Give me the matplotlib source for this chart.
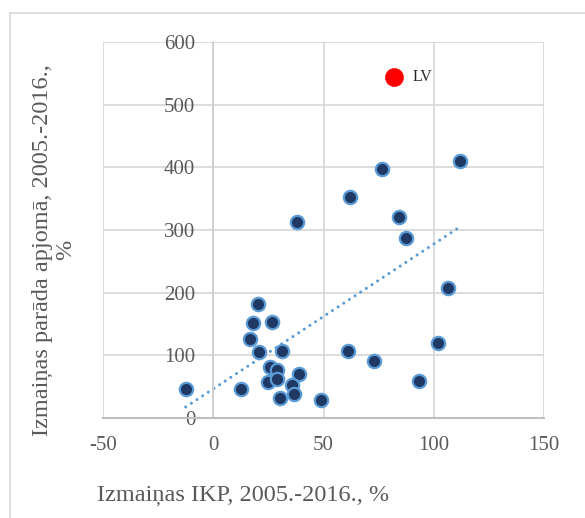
import matplotlib
matplotlib.use("Agg")
import matplotlib.pyplot as plt
from matplotlib.lines import Line2D

plt.rcParams['font.family'] = ['Liberation Serif', 'DejaVu Serif']
plt.rcParams['axes.unicode_minus'] = False

# Change in GDP 2005-2016, % (x) and change in debt 2005-2016, % (y)
gdp_change = [-12.5, 12.6, 20.2, 17.9, 26.8, 16.7, 20.6, 31.1, 25.8, 29.0,
              24.7, 28.8, 39.0, 35.9, 36.7, 30.3, 48.8, 38.2, 76.5, 61.8,
              84.3, 87.4, 111.8, 106.4, 61.1, 73.0, 101.8, 93.2]
debt_change = [47, 46, 182, 151, 153, 126, 105, 107, 81, 76,
               58, 62, 70, 52, 39, 32, 28, 313, 397, 353,
               320, 288, 410, 208, 107, 91, 119, 59]

# Latvia highlighted
lv_x = [81.8]
lv_y = [544]
lv_label = "LV"

# Linear trend line endpoints (as read)
trend_x = [-12.5, 111.8]
trend_y = [17.6, 304.8]

x_ticks = [-50, 0, 50, 100, 150]
y_ticks = [0, 100, 200, 300, 400, 500, 600]

x_title = "Izmaiņas IKP, 2005.-2016., %"
y_title = "Izmaiņas parāda apjomā, 2005.-2016.,\n%"

fig = plt.figure(figsize=(5.85, 5.18), dpi=100)
ax = fig.add_axes([103/585, 1-418/518, (544-103)/585, (418-42)/518])

grid_c = '#d9d9d9'
text_c = '#595959'

ax.set_xlim(-50, 150)
ax.set_ylim(0, 600)
ax.set_xticks(x_ticks)
ax.set_yticks(y_ticks)
ax.grid(True, color=grid_c, linewidth=1.3, zorder=0)
ax.set_axisbelow(True)

for s in ['top', 'right']:
    ax.spines[s].set_visible(False)
ax.spines['left'].set_position(('data', 0))
ax.spines['left'].set_color('#d0d0d0')
ax.spines['left'].set_linewidth(1.3)
ax.spines['bottom'].set_color('#bfbfbf')
ax.spines['bottom'].set_linewidth(1.5)

ax.tick_params(axis='both', length=0, labelsize=15, labelcolor=text_c)
ax.tick_params(axis='y', pad=13)
ax.tick_params(axis='x', pad=13)

ax.plot(trend_x, trend_y, color='#5b9bd5', linewidth=2.2,
        linestyle=(0, (0.01, 2.2)), dash_capstyle='round', zorder=2)

ax.plot(gdp_change, debt_change, linestyle='none', marker='o', markersize=9.6,
        markerfacecolor='#1f3864', markeredgecolor='#5b9bd5', markeredgewidth=1.6,
        zorder=3, clip_on=False)

ax.plot(lv_x, lv_y, linestyle='none', marker='o', markersize=13.5,
        markerfacecolor='#ff0000', markeredgecolor='#ff0000', markeredgewidth=0,
        zorder=3)
ax.annotate(lv_label, (lv_x[0], lv_y[0]), xytext=(14, 0), textcoords='offset points',
            va='center', ha='left', fontsize=11.5, color='#262626')

fig.text(243/585, 1-496/518, x_title, ha='center', va='center',
         fontsize=17.5, color=text_c)
fig.text(54/585, 1-250/518, y_title, ha='center', va='center', rotation=90,
         fontsize=17.5, color=text_c, linespacing=1.15, multialignment='center')

# outer chart frame (partially visible)
fig.add_artist(Line2D([10/585, 1], [1-13/518, 1-13/518], color=grid_c, linewidth=1.2))
fig.add_artist(Line2D([10/585, 10/585], [0, 1-13/518], color=grid_c, linewidth=1.2))

fig.savefig('out.png', dpi=100)
